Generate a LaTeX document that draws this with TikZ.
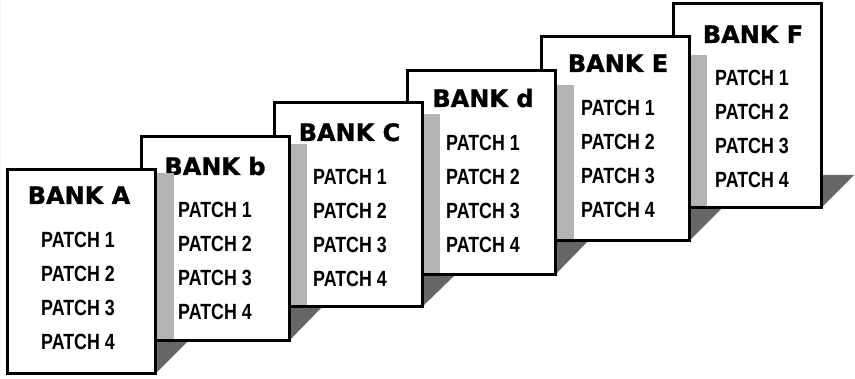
\documentclass[tikz,border=0pt]{standalone}
\usepackage{fontspec}
\usetikzlibrary{backgrounds,calc}
\newfontfamily\bankfont{DejaVu Sans}[FakeBold=1.2]
\newfontfamily\patchfont{Liberation Sans}[FakeStretch=0.81]
\definecolor{stripgray}{HTML}{B3B3B3}
\definecolor{darkshade}{HTML}{666666}
\tikzset{
  card/.style={draw=black, fill=white, line width=3pt, rectangle, outer sep=0pt,
    inner sep=0pt, minimum width=148pt, minimum height=204pt, anchor=north west},
  banklabel/.style={inner sep=0pt, anchor=base, font=\bankfont\bfseries\fontsize{24}{24}\selectfont},
  patchlabel/.style={inner sep=0pt, anchor=base west, font=\patchfont\bfseries\fontsize{22}{22}\selectfont},
  strip/.style={fill=stripgray},
  floorshade/.style={fill=darkshade}
}
\begin{document}
\begin{tikzpicture}[x=1pt,y=-1pt]
\useasboundingbox (0,0) rectangle (855,379);
\foreach \n/\l/\t/\lab/\bx/\bb/\px/\pb/\sx/\st/\sw in {
  F/673/4/BANK F/753/43/715/86/689/55/18,
  E/541/37/BANK E/618/72/581/116/556/85/18,
  D/407/71/BANK d/483/107/446/151/422/114/18,
  C/274/103/BANK C/349.5/141/313/185/289/144/18,
  B/141/137/BANK b/215/175/178/218/156/173/18,
  A/7/170/BANK A/79/204/41/248/0/0/0}{
  \node[card] (card\n) at (\l,\t) {};
  \node[banklabel] (bank\n) at (\bx,\bb) {\lab};
  \foreach \k in {1,...,4}{
    \node[patchlabel] (patch\n\k) at (\px,{\pb+33.8*(\k-1)}) {PATCH \k};
  }
  \fill[strip] (\sx,\st) rectangle ({\sx+\sw},{\t+202.5});
}
\begin{pgfonlayer}{background}
\foreach \i/\j in {A/B,B/C,C/D,D/E,E/F}{
  \fill[floorshade] (card\i.east |- card\j.south) -- ++(33,0) -- (card\i.south east) -- cycle;
}
\fill[floorshade] ($(cardF.south east)+(0,-33)$) -- ++(33,0) -- (cardF.south east) -- cycle;
\end{pgfonlayer}
\end{tikzpicture}
\end{document}
